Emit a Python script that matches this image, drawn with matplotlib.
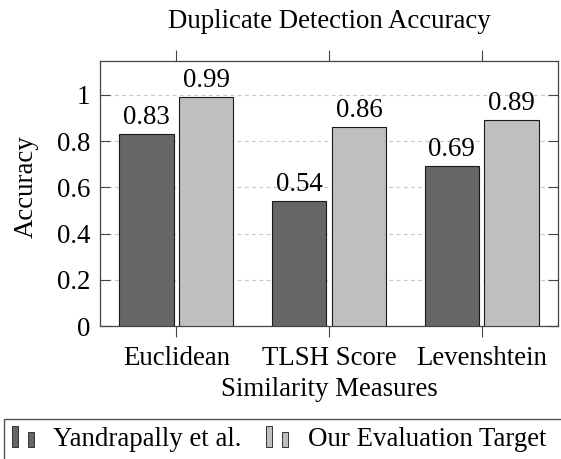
import numpy as np
import matplotlib
matplotlib.use('Agg')
import matplotlib.pyplot as plt
from matplotlib.patches import Rectangle

# data
categories = ['Euclidean', 'TLSH Score', 'Levenshtein']
yandrapally = [0.83, 0.54, 0.69]
our_target = [0.99, 0.86, 0.89]
series_names = ['Yandrapally et al.', 'Our Evaluation Target']

W, H = 561, 459
DARK = '#666666'
LIGHT = '#bfbfbf'
FS = 19.4

plt.rcParams['font.family'] = ['Liberation Serif', 'DejaVu Serif']
plt.rcParams['mathtext.fontset'] = 'stix'

fig = plt.figure(figsize=(W / 100, H / 100), dpi=100)

def fx(px):
	return px / W

def fy(py):
	return (H - py) / H

# axes box in pixels: left 100, right 558, top 61, bottom 326
ax = fig.add_axes([fx(100), fy(326), fx(558) - fx(100), fy(61) - fy(326)])

x = np.arange(len(categories))
bw = 0.355
off = 0.196
b1 = ax.bar(x - off, yandrapally, bw, color=DARK, edgecolor='#1a1a1a', linewidth=0.8, zorder=3)
b2 = ax.bar(x + off, our_target, bw, color=LIGHT, edgecolor='#1a1a1a', linewidth=0.8, zorder=3)
ax.bar_label(b1, labels=['%.2f' % v for v in yandrapally], padding=3, fontsize=FS)
ax.bar_label(b2, labels=['%.2f' % v for v in our_target], padding=3, fontsize=FS)

ax.set_xlim(-0.5, 2.5)
ax.set_ylim(0, 1.146)
ax.set_xticks(x)
ax.set_xticklabels(categories, fontsize=FS)
ax.set_yticks([0, 0.2, 0.4, 0.6, 0.8, 1.0])
ax.set_yticklabels(['0', '0.2', '0.4', '0.6', '0.8', '1'], fontsize=FS)

ax.tick_params(axis='x', direction='out', top=True, length=8, width=0.8, pad=6.5, color='#444444')
ax.tick_params(axis='y', direction='in', right=True, length=7, width=0.8, pad=7, color='#444444')
for s in ax.spines.values():
	s.set_color('#444444')
	s.set_linewidth(0.9)

ax.yaxis.grid(True, linestyle=(0, (3.5, 3)), color='#c8c8c8', linewidth=0.8, zorder=0)
ax.set_axisbelow(True)

ax.set_xlabel('Similarity Measures', fontsize=FS, labelpad=4)
ax.set_ylabel('Accuracy', fontsize=FS)
ax.yaxis.set_label_coords((39 - 100) / 458, (326 - 187) / 265)

fig.text(fx(329), fy(27.5), 'Duplicate Detection Accuracy', fontsize=FS, ha='center', va='baseline')

# legend box (runs off the right and bottom edge like the original)
fig.patches.append(Rectangle((fx(3.5), fy(470)), fx(600) - fx(3.5), fy(419) - fy(470),
	transform=fig.transFigure, fill=False, edgecolor='#555555', linewidth=1.0))

def legend_icon(x0, color):
	fig.patches.append(Rectangle((fx(x0), fy(446.5)), fx(6), fy(426) - fy(446.5),
		transform=fig.transFigure, facecolor=color, edgecolor='#333333', linewidth=0.7))
	fig.patches.append(Rectangle((fx(x0 + 16), fy(446.5)), fx(6), fy(431.5) - fy(446.5),
		transform=fig.transFigure, facecolor=color, edgecolor='#333333', linewidth=0.7))

legend_icon(12, DARK)
fig.text(fx(53), fy(446.5), series_names[0], fontsize=FS, ha='left', va='baseline')
legend_icon(266, LIGHT)
fig.text(fx(308), fy(446.5), series_names[1], fontsize=FS, ha='left', va='baseline')

fig.savefig('out.png', dpi=100)
